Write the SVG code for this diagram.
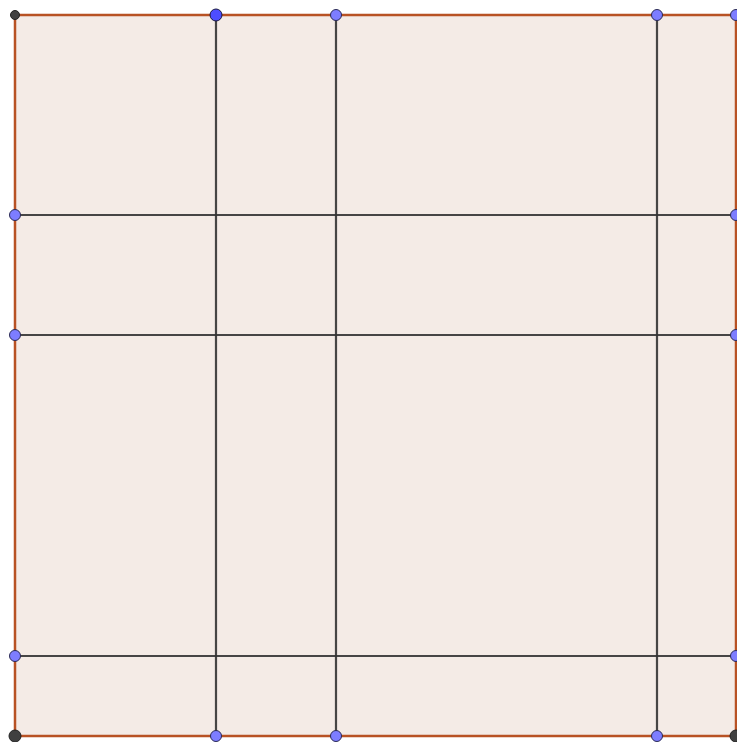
<svg xmlns="http://www.w3.org/2000/svg" width="737" height="742" viewBox="0 0 737 742">
<style>
.edge{stroke:#b85224;stroke-width:2.5;fill:none}
.grid{stroke:#333333;stroke-width:2.2;stroke-opacity:0.9}
.pt{fill:#7d7dff;stroke:#2a2a55;stroke-width:1}
.pt2{fill:#4d4dff;stroke:#1a1a40;stroke-width:1}
.dk{fill:#404040;stroke:#222;stroke-width:1}
</style>
<rect width="737" height="742" fill="#ffffff"/>
<g id="square">
<rect x="15" y="15" width="721" height="721" fill="#f4ebe6"/>
</g>
<g id="connectors">
<line class="grid" x1="216" y1="15" x2="216" y2="736"/>
<line class="grid" x1="336" y1="15" x2="336" y2="736"/>
<line class="grid" x1="657" y1="15" x2="657" y2="736"/>
<line class="grid" x1="15" y1="215" x2="736" y2="215"/>
<line class="grid" x1="15" y1="335" x2="736" y2="335"/>
<line class="grid" x1="15" y1="656" x2="736" y2="656"/>
<rect class="edge" x="15" y="15" width="721" height="721"/>
</g>
<g id="points">
<circle class="dk" cx="15" cy="15" r="4.5"/>
<circle class="pt2" cx="216" cy="15" r="6"/>
<circle class="pt" cx="336" cy="15" r="5.5"/>
<circle class="pt" cx="657" cy="15" r="5.5"/>
<circle class="pt" cx="736" cy="15" r="5.5"/>
<circle class="pt" cx="15" cy="215" r="5.5"/>
<circle class="pt" cx="15" cy="335" r="5.5"/>
<circle class="pt" cx="15" cy="656" r="5.5"/>
<circle class="pt" cx="736" cy="215" r="5.5"/>
<circle class="pt" cx="736" cy="335" r="5.5"/>
<circle class="pt" cx="736" cy="656" r="5.5"/>
<circle class="pt" cx="216" cy="736" r="5.5"/>
<circle class="pt" cx="336" cy="736" r="5.5"/>
<circle class="pt" cx="657" cy="736" r="5.5"/>
<circle class="dk" cx="15" cy="736" r="6"/>
<circle class="dk" cx="736" cy="736" r="6"/>
</g>
</svg>
